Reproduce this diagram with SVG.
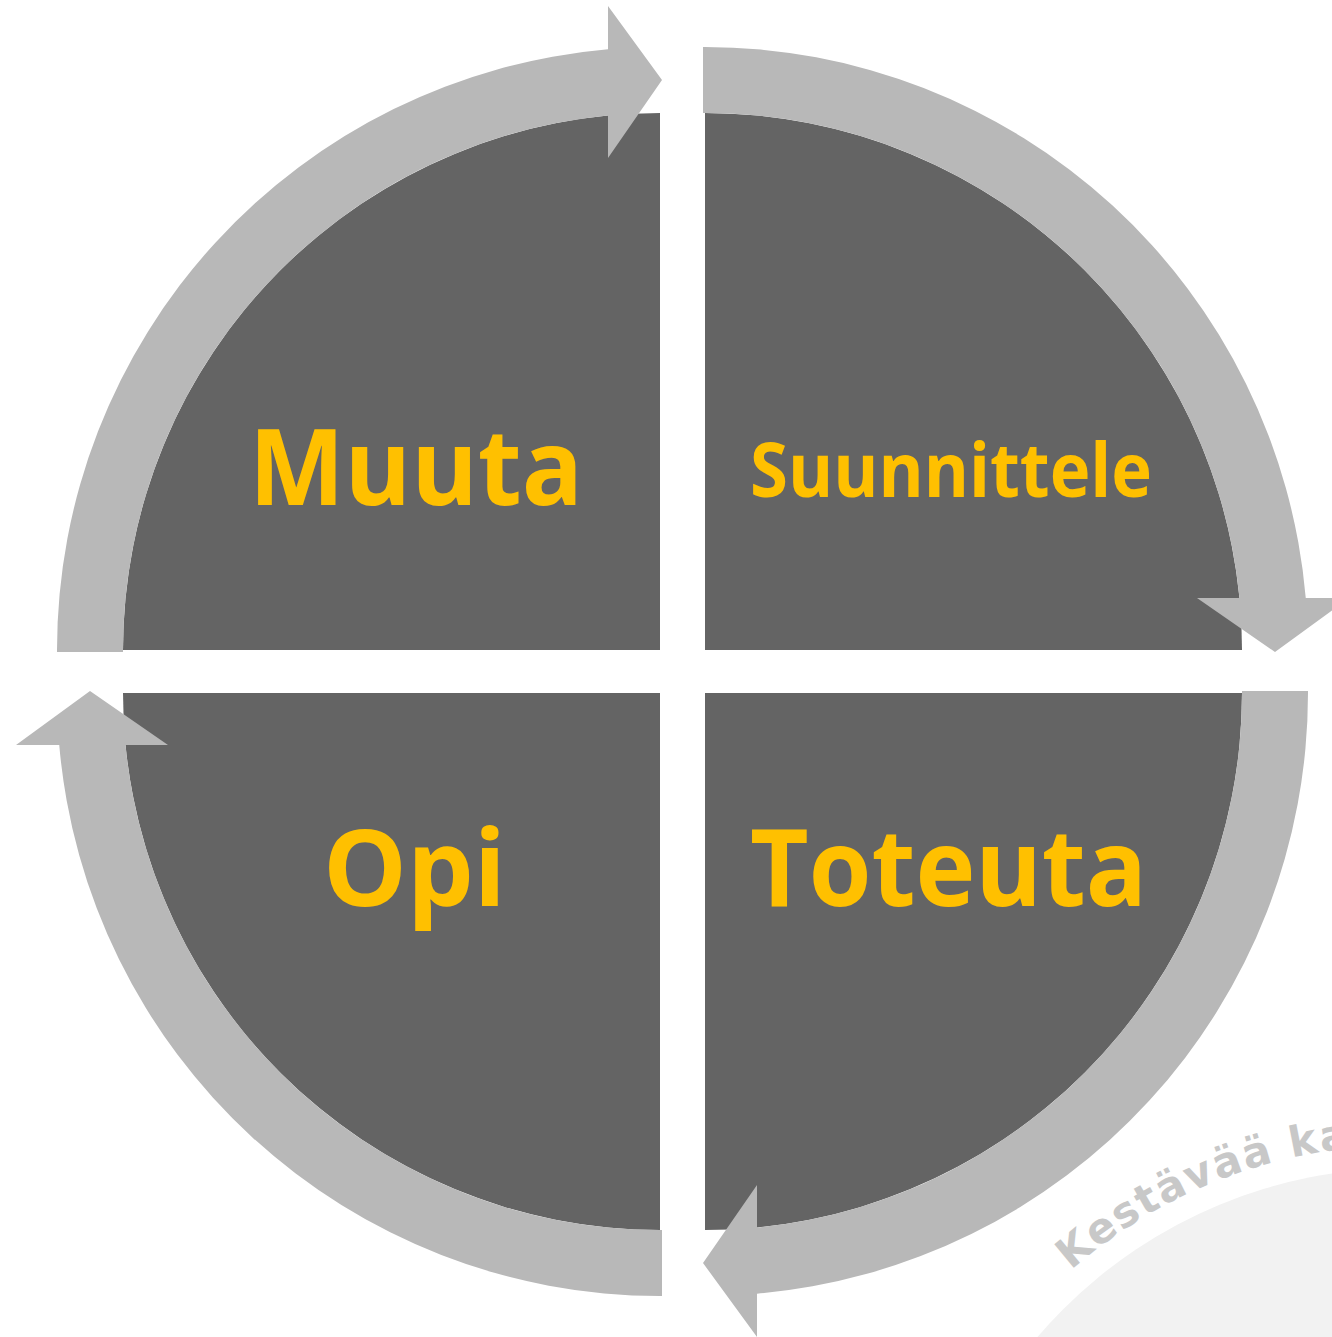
<svg xmlns="http://www.w3.org/2000/svg" xmlns:xlink="http://www.w3.org/1999/xlink" width="1332" height="1337" viewBox="0 0 1332 1337">
  <style>
    .sector { fill: #646464; }
    .ring { fill: #b8b8b8; }
    .label { font-family: "Open Sans", "Noto Sans", "Liberation Sans", sans-serif; font-weight: 700; fill: #ffc000; text-anchor: middle; }
    .mark { font-family: "DejaVu Sans", "Liberation Sans", sans-serif; font-weight: 700; fill: #c8c8c8; font-size: 42px; letter-spacing: 2px; }
  </style>
  <defs>
    <!-- quarter disc, corner at the origin, opening to the upper left -->
    <path id="sector" d="M0,0 L-537,0 A537,537 0 0 1 0,-537 Z"/>
    <!-- curved arrow band (r 537..603) running from 9 o'clock to 12 o'clock -->
    <path id="ring" d="M-603,2 L-603,0 A603,603 0 0 1 -52,-600.75 L-52,-644 L2,-570 L-52,-492 L-52,-534.48 A537,537 0 0 0 -537,0 L-537,2 Z"/>
    <path id="markArc" d="M1017.2,1325.4 A505,505 0 0 1 1656.5,1212.7"/>
  </defs>

  <rect width="1332" height="1337" fill="#ffffff"/>

  <!-- faded emblem in the lower right corner -->
  <g id="emblem">
    <circle cx="1404" cy="1650" r="482" fill="#f2f2f2"/>
    <text class="mark"><textPath xlink:href="#markArc" href="#markArc" startOffset="77">Kestävää ka</textPath></text>
  </g>

  <g id="muuta">
    <use href="#sector" xlink:href="#sector" class="sector" transform="translate(660,650)"/>
    <text class="label" x="416" y="505" font-size="106" textLength="334" lengthAdjust="spacingAndGlyphs">Muuta</text>
  </g>
  <g id="suunnittele">
    <use href="#sector" xlink:href="#sector" class="sector" transform="translate(705,650) rotate(90)"/>
    <text class="label" x="951" y="497" font-size="75" textLength="402" lengthAdjust="spacingAndGlyphs">Suunnittele</text>
  </g>
  <g id="toteuta">
    <use href="#sector" xlink:href="#sector" class="sector" transform="translate(705,693) rotate(180)"/>
    <text class="label" x="948.5" y="906" font-size="108" textLength="397" lengthAdjust="spacingAndGlyphs">Toteuta</text>
  </g>
  <g id="opi">
    <use href="#sector" xlink:href="#sector" class="sector" transform="translate(660,693) rotate(270)"/>
    <text class="label" x="414.5" y="906" font-size="106" textLength="183" lengthAdjust="spacingAndGlyphs">Opi</text>
  </g>

  <g id="connectors">
    <use href="#ring" xlink:href="#ring" class="ring" transform="translate(660,650)"/>
    <use href="#ring" xlink:href="#ring" class="ring" transform="translate(705,650) rotate(90)"/>
    <use href="#ring" xlink:href="#ring" class="ring" transform="translate(705,693) rotate(180)"/>
    <use href="#ring" xlink:href="#ring" class="ring" transform="translate(660,693) rotate(270)"/>
  </g>
</svg>
